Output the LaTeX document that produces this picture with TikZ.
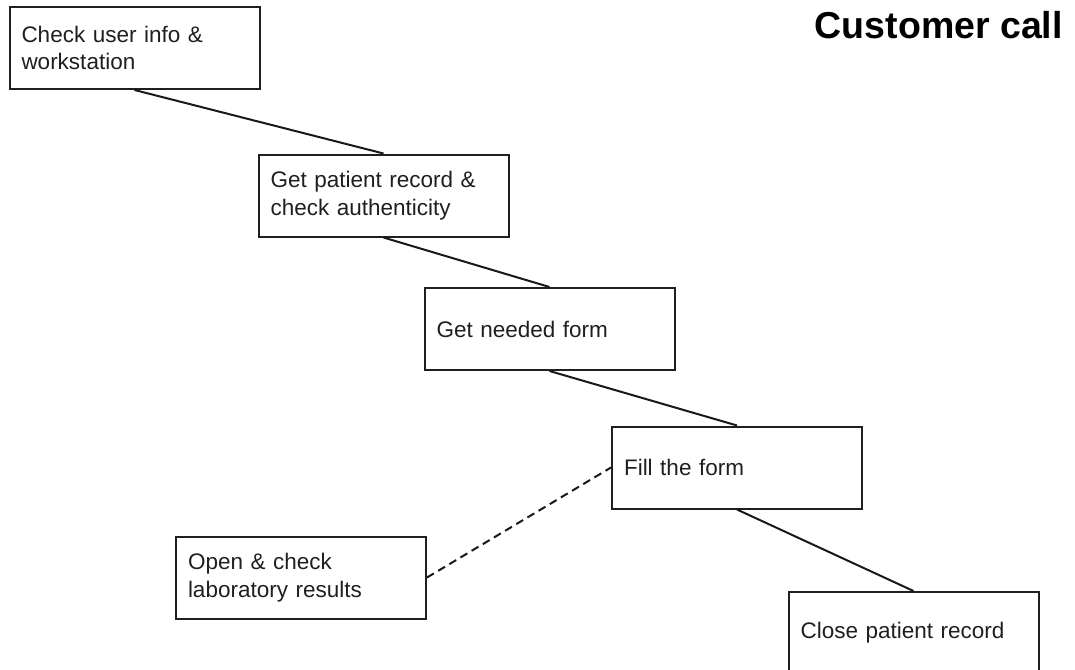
\documentclass[tikz,border=0pt]{standalone}
\usepackage{fontspec}
\setmainfont{Liberation Sans}
\begin{document}
\begin{tikzpicture}[x=1pt,y=-1pt,
  stepbox/.style={draw=black!88, line width=2pt, rectangle,
    minimum width=250pt, minimum height=82pt, inner xsep=12pt,
    text width=226pt, align=left, text=black!88,
    font=\fontsize{22.5}{27.5}\selectfont},
  link/.style={draw=black!90, line width=2pt},
  optional/.style={link, dash pattern=on 8pt off 5pt}]
  \useasboundingbox (0,0) rectangle (1075,669);
  % process steps
  \node[stepbox] (user)   at (134.5,48)   {Check user info \&\\workstation};
  \node[stepbox] (record) at (383.5,195.5){Get patient record \&\\check authenticity};
  \node[stepbox] (form)   at (549.5,329)  {Get needed form};
  \node[stepbox] (fill)   at (737,467.5)  {Fill the form};
  \node[stepbox] (lab)    at (301,577.5)  {Open \& check\\laboratory results};
  \node[stepbox] (close)  at (913.5,633)  {Close patient record};
  % title
  \node[anchor=base east, inner sep=0pt, font=\fontsize{37.5}{42}\selectfont\bfseries]
    (title) at (1063,38) {Customer call};
  % sequence
  \draw[link] (user.south) -- (record.north);
  \draw[link] (record.south) -- (form.north);
  \draw[link] (form.south) -- (fill.north);
  \draw[link] (fill.south) -- (close.north);
  \draw[optional] (lab.east) -- (fill.west);
\end{tikzpicture}
\end{document}
